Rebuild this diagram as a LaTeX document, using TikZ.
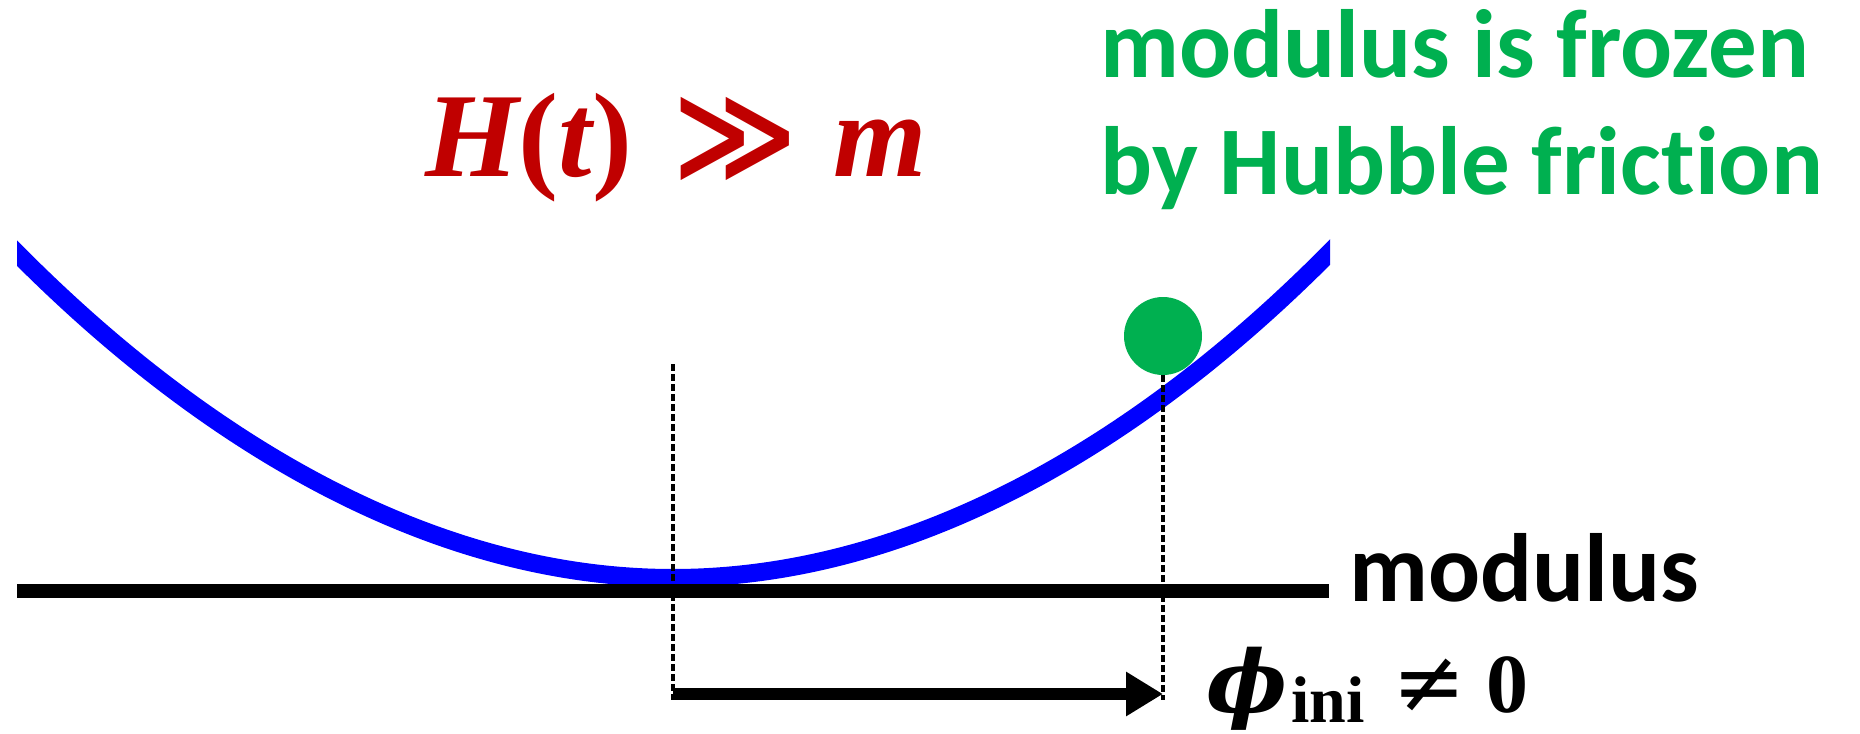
\documentclass[tikz,border=0pt]{standalone}
\usepackage{fontspec}
\setmainfont{Carlito}[Ligatures=NoCommon]
\newfontfamily\timesfont{Liberation Serif}
\newfontfamily\dejaserif{DejaVu Serif}
\newfontfamily\dejasans{DejaVu Sans}
\usetikzlibrary{arrows.meta}
\definecolor{potblue}{RGB}{0,0,255}
\definecolor{frozengreen}{RGB}{0,176,80}
\definecolor{hubblered}{RGB}{192,0,0}

\begin{document}
\begin{tikzpicture}[
  x=0.5pt, y=-0.5pt,
  greenlabel/.style={text=frozengreen, font=\fontsize{48.5}{58}\selectfont\bfseries,
                     inner sep=0pt, anchor=base west},
  axislabel/.style={font=\fontsize{48.5}{58}\selectfont\bfseries, inner sep=0pt, anchor=base west},
  redmath/.style={text=hubblered, font=\timesfont\bfseries\fontsize{60}{70}\selectfont,
                  inner sep=0pt, anchor=base west},
  inimath/.style={font=\timesfont\bfseries\fontsize{42}{46}\selectfont,
                  inner sep=0pt, anchor=base west},
  guide/.style={line width=1.6pt, dash pattern=on 3.5pt off 1.5pt},
  arrow/.style={-{Triangle[length=18.5pt, width=21pt]}, line width=6pt}
]
  \useasboundingbox (0,0) rectangle (1860,734);

  % potential
  \begin{scope}
    \clip (17,0) rectangle (1330,734);
    \draw[potblue, line width=9pt] (0,236) parabola bend (673,578) (1346,236);
  \end{scope}

  % modulus axis
  \coordinate (axisL) at (17,591);
  \coordinate (axisR) at (1329,591);
  \draw[line width=7pt] (axisL) -- (axisR);
  \node[axislabel] (modulus) at (1349,601) {modulus};

  % frozen ball
  \node[circle, fill=frozengreen, inner sep=0pt, minimum size=39pt] (ball) at (1163,336) {};

  % guides and displacement
  \coordinate (origintop) at (673,364);
  \coordinate (originbot) at (673,700);
  \coordinate (inibot) at (1163,700);
  \draw[guide] (origintop) -- (originbot);
  \draw[guide] (ball.south) -- (inibot);
  \coordinate (arrowL) at (673,694);
  \coordinate (arrowR) at (1163,694);
  \draw[arrow] (arrowL) -- (arrowR);

  % labels
  \node[redmath] (hubble) at (425,176)
    {\itshape H\upshape(\itshape t\upshape)\hspace{20pt}{\dejasans ≫}\hspace{18pt}\itshape m};
  \node[greenlabel] (frozen) at (1100,77) {modulus is frozen};
  \node[greenlabel] (friction) at (1100,194) {by Hubble friction};
  \node[inimath] (phiini) at (1206,712)
    {{\dejaserif\itshape\fontsize{43}{48}\selectfont ϕ}\hspace{2pt}%
     \raisebox{-5pt}{\fontsize{33}{36}\selectfont ini}\hspace{14pt}%
     {\dejasans\mdseries\fontsize{44}{48}\selectfont ≠}\hspace{10pt}0};
\end{tikzpicture}
\end{document}
